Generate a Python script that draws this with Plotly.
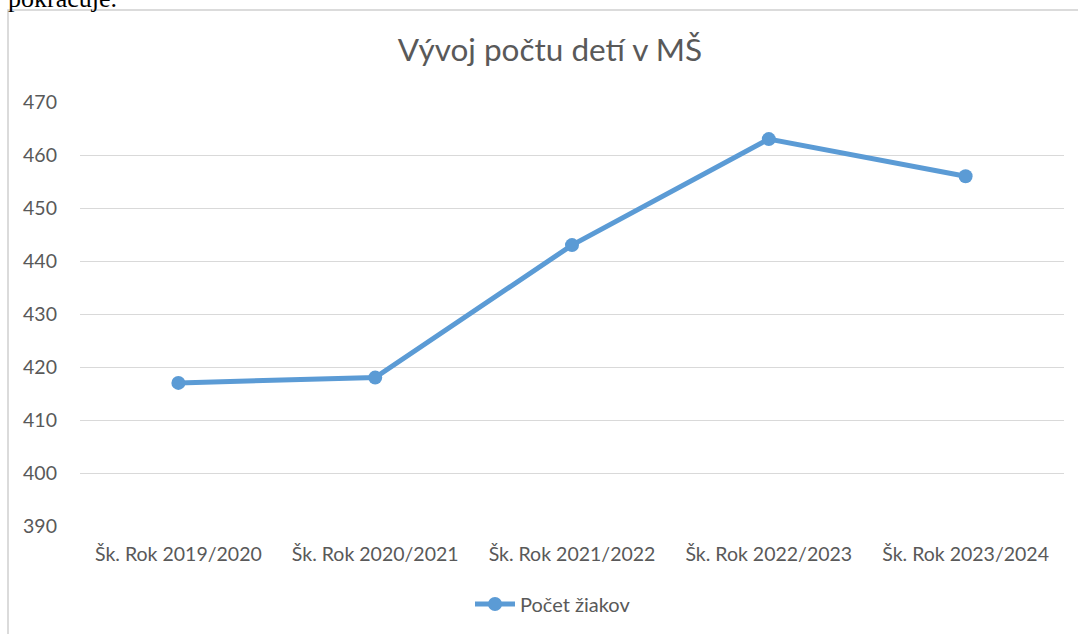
import plotly.graph_objects as go

categories = ["Šk. Rok 2019/2020", "Šk. Rok 2020/2021", "Šk. Rok 2021/2022",
              "Šk. Rok 2022/2023", "Šk. Rok 2023/2024"]
values = [417, 418, 443, 463, 456]
series_name = "Počet žiakov"
title_text = "Vývoj počtu detí v MŠ"
y_ticks = [390, 400, 410, 420, 430, 440, 450, 460, 470]

W, H = 1078, 634
L, R, T, B = 80, 14, 102, 108
pw, ph = W - L - R, H - T - B

def px_x(x):
    return (x - L) / pw

def px_y(y):
    return (H - B - y) / ph

FONT = "Lato, 'Open Sans', sans-serif"
GRAY = "#595959"
BLUE = "#5B9BD5"

fig = go.Figure()
fig.add_trace(go.Scatter(
    x=categories, y=values, name=series_name, mode="lines+markers",
    line=dict(color=BLUE, width=5),
    marker=dict(color=BLUE, size=14),
))

fig.update_layout(
    width=W, height=H,
    margin=dict(l=L, r=R, t=T, b=B, autoexpand=False),
    paper_bgcolor="white", plot_bgcolor="white",
    font=dict(family=FONT, color=GRAY),
    title=dict(text=title_text, x=550 / W, xanchor="center", xref="container",
               y=1 - 50 / H, yanchor="middle", yref="container",
               font=dict(size=31.5, color=GRAY, family=FONT)),
    showlegend=True,
    legend=dict(orientation="h", x=px_x(553), xanchor="center",
                y=px_y(604), yanchor="middle",
                font=dict(size=20, color=GRAY, family=FONT),
                itemwidth=40, bgcolor="rgba(0,0,0,0)"),
    xaxis=dict(range=[-0.5, 4.5], showgrid=False, zeroline=False, showline=False,
               tickfont=dict(size=19.5, color=GRAY, family=FONT),
               ticks="", ticklabelstandoff=14),
    yaxis=dict(range=[390, 470], tickvals=y_ticks, showgrid=True,
               gridcolor="#D9D9D9", gridwidth=1.3, zeroline=False, showline=False,
               tickfont=dict(size=19.5, color=GRAY, family=FONT),
               ticks="", ticklabelstandoff=22),
    shapes=[dict(type="rect", xref="paper", yref="paper",
                 x0=px_x(8), x1=px_x(1100), y0=px_y(660), y1=px_y(10),
                 line=dict(color="#D0D0D0", width=1.5), fillcolor="rgba(0,0,0,0)",
                 layer="below")],
    annotations=[dict(text="pokračuje.", xref="paper", yref="paper",
                      x=px_x(6), xanchor="left", y=px_y(15), yanchor="bottom",
                      showarrow=False,
                      font=dict(family="Liberation Serif", size=26, color="#000000"))],
)

fig.write_html("out.html",
               config={"displayModeBar": False},
               post_script="document.body.style.margin='0';"
                           "document.documentElement.style.margin='0';")
